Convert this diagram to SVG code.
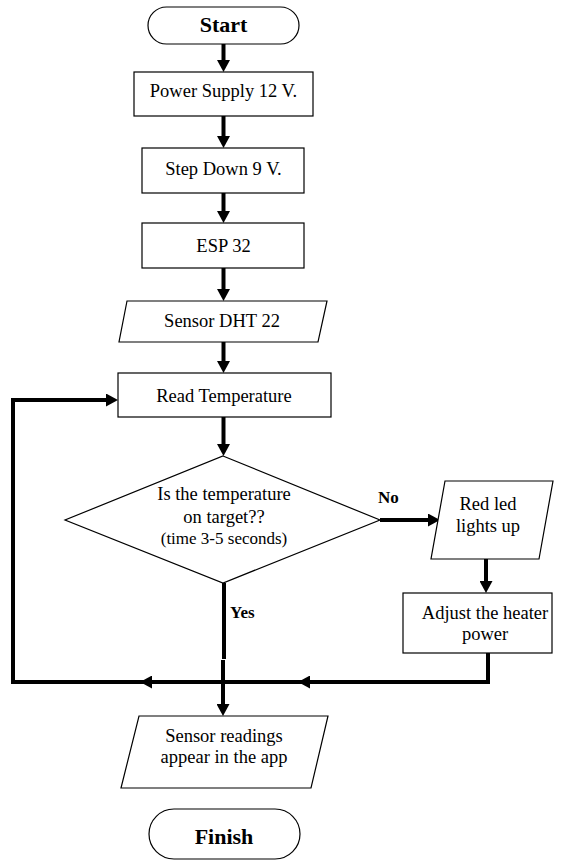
<svg xmlns="http://www.w3.org/2000/svg" width="563" height="862" viewBox="0 0 563 862">
<style>
.shape{fill:#fff;stroke:#000;stroke-width:1.2}
.t{font-family:"Liberation Serif","Times New Roman",serif;font-size:18.5px;fill:#000;text-anchor:middle}
.s{font-size:17px}
.b{font-weight:bold;font-size:22px}
.lb{font-family:"Liberation Serif","Times New Roman",serif;font-weight:bold;font-size:17px;fill:#000}
.c{fill:none;stroke:#000;stroke-width:4}
</style>
<defs>
<marker id="ah" markerWidth="12" markerHeight="13" refX="1" refY="6.5" orient="auto" markerUnits="userSpaceOnUse">
<path d="M0,0 L12,6.5 L0,13 z" fill="#000"/>
</marker>
</defs>
<rect width="563" height="862" fill="#fff"/>
<g id="connectors">
<line class="c" x1="223.5" y1="44" x2="223.5" y2="61" marker-end="url(#ah)"/>
<line class="c" x1="223.5" y1="116" x2="223.5" y2="137" marker-end="url(#ah)"/>
<line class="c" x1="223.5" y1="193" x2="223.5" y2="212" marker-end="url(#ah)"/>
<line class="c" x1="223.5" y1="268" x2="223.5" y2="290" marker-end="url(#ah)"/>
<line class="c" x1="223.5" y1="342" x2="223.5" y2="362" marker-end="url(#ah)"/>
<line class="c" x1="223.5" y1="417" x2="223.5" y2="445" marker-end="url(#ah)"/>
<line class="c" x1="380" y1="520" x2="429" y2="520" marker-end="url(#ah)"/>
<line class="c" x1="486" y1="559" x2="486" y2="582" marker-end="url(#ah)"/>
<line class="c" x1="224" y1="583" x2="224" y2="659"/>
<line class="c" x1="223" y1="660" x2="223" y2="705" marker-end="url(#ah)"/>
<polyline class="c" points="488,653 488,682 13,682 13,400 107,400" marker-end="url(#ah)"/>
<line class="c" x1="320" y1="682" x2="309" y2="682" marker-end="url(#ah)"/>
<line class="c" x1="162" y1="682" x2="151" y2="682" marker-end="url(#ah)"/>
<text class="lb" x="378" y="503">No</text>
<text class="lb" x="230" y="618">Yes</text>
</g>
<g id="start">
<rect class="shape" x="148" y="7" width="151" height="37" rx="18.5"/>
<text class="t b" x="223.5" y="32">Start</text>
</g>
<g id="power">
<rect class="shape" x="134" y="72" width="179" height="44"/>
<text class="t" x="223.5" y="97">Power Supply 12 V.</text>
</g>
<g id="stepdown">
<rect class="shape" x="142" y="148" width="162" height="45"/>
<text class="t" x="223.5" y="175">Step Down 9 V.</text>
</g>
<g id="esp32">
<rect class="shape" x="142" y="223" width="162" height="45"/>
<text class="t" x="223.5" y="252">ESP 32</text>
</g>
<g id="sensor">
<polygon class="shape" points="127,301 327,301 318,342 119,342"/>
<text class="t" x="222" y="327">Sensor DHT 22</text>
</g>
<g id="read">
<rect class="shape" x="118" y="373" width="213" height="44"/>
<text class="t" x="224" y="402">Read Temperature</text>
</g>
<g id="decision">
<polygon class="shape" points="223,456 380,520 223,583 65,520"/>
<text class="t" x="224" y="500">Is the temperature</text>
<text class="t" x="224" y="523">on target??</text>
<text class="t s" x="224" y="544">(time 3-5 seconds)</text>
</g>
<g id="redled">
<polygon class="shape" points="445,481 553,481 539,559 431,559"/>
<text class="t" x="488" y="510">Red led</text>
<text class="t" x="488" y="532">lights up</text>
</g>
<g id="adjust">
<rect class="shape" x="403" y="593" width="149" height="60"/>
<text class="t" x="485" y="619">Adjust the heater</text>
<text class="t" x="485" y="640">power</text>
</g>
<g id="readings">
<polygon class="shape" points="139,716 328,716 311,788 121,788"/>
<text class="t" x="224" y="742">Sensor readings</text>
<text class="t" x="224" y="763">appear in the app</text>
</g>
<g id="finish">
<rect class="shape" x="149" y="809" width="151" height="50" rx="25"/>
<text class="t b" x="224" y="844">Finish</text>
</g>
</svg>
